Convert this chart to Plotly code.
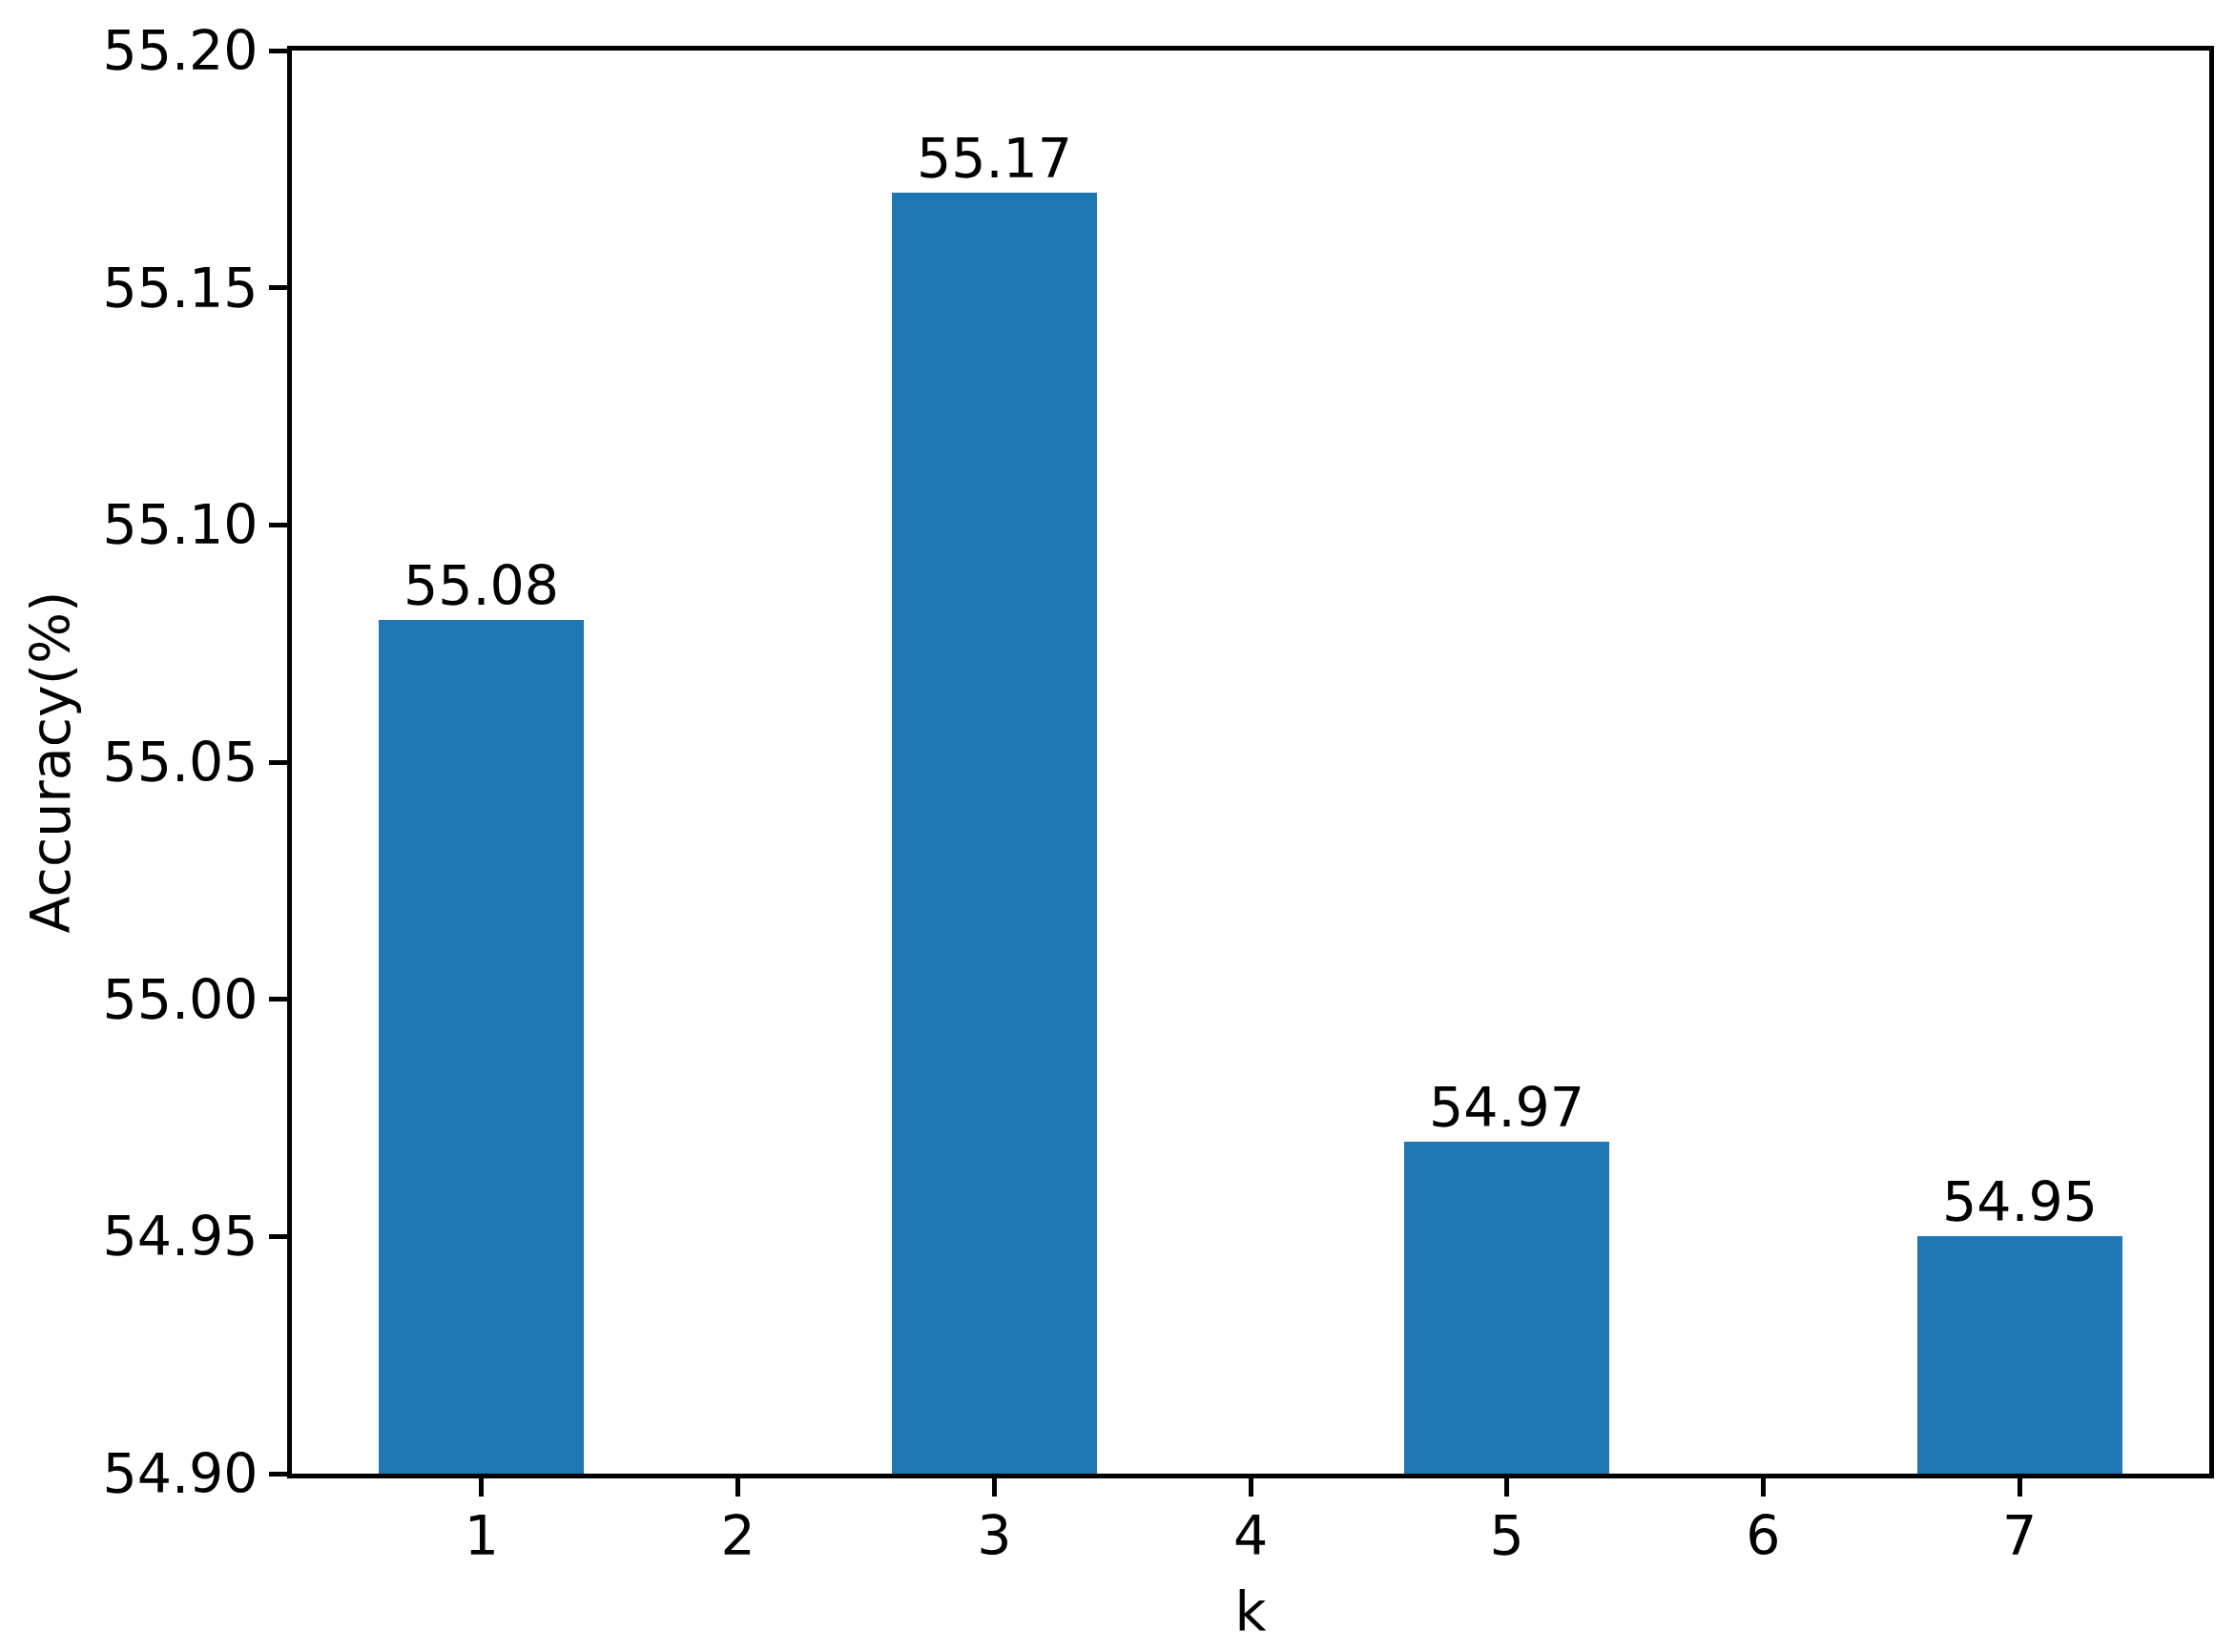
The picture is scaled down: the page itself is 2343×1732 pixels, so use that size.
import plotly.graph_objects as go

k_values = [1, 3, 5, 7]
accuracy = [55.08, 55.17, 54.97, 54.95]
labels = ["55.08", "55.17", "54.97", "54.95"]
y_ticks = [54.90, 54.95, 55.00, 55.05, 55.10, 55.15, 55.20]
x_ticks = [1, 2, 3, 4, 5, 6, 7]

FONT = "DejaVu Sans"
FS = 57

fig = go.Figure()
fig.add_trace(go.Bar(
    x=k_values,
    y=accuracy,
    width=0.8,
    marker=dict(color="#1f77b4", line=dict(width=0)),
    text=labels,
    textposition="outside",
    textfont=dict(family=FONT, size=FS, color="black"),
    cliponaxis=False,
))

fig.update_layout(
    width=2343,
    height=1732,
    margin=dict(l=298, r=35, t=35, b=195),
    plot_bgcolor="white",
    paper_bgcolor="white",
    font=dict(family=FONT, size=FS, color="black"),
    showlegend=False,
    bargap=0,
)
fig.update_xaxes(
    range=[0.26, 7.74],
    tickmode="array",
    tickvals=x_ticks,
    ticktext=[str(v) for v in x_ticks],
    ticks="outside",
    ticklen=19,
    tickwidth=5,
    tickcolor="black",
    showline=True,
    linecolor="black",
    linewidth=5,
    mirror=True,
    showgrid=False,
    zeroline=False,
    tickfont=dict(family=FONT, size=FS),
    ticklabelstandoff=-7,
    title=dict(text="k", font=dict(family=FONT, size=FS), standoff=28),
)
fig.update_yaxes(
    range=[54.90, 55.20],
    tickmode="array",
    tickvals=y_ticks,
    ticktext=[f"{v:.2f}" for v in y_ticks],
    ticks="outside",
    ticklen=19,
    tickwidth=5,
    tickcolor="black",
    showline=True,
    linecolor="black",
    linewidth=5,
    mirror=True,
    showgrid=False,
    zeroline=False,
    tickfont=dict(family=FONT, size=FS),
    title=dict(text="Accuracy(%)", font=dict(family=FONT, size=FS), standoff=17),
)

fig.write_html("out.html")
